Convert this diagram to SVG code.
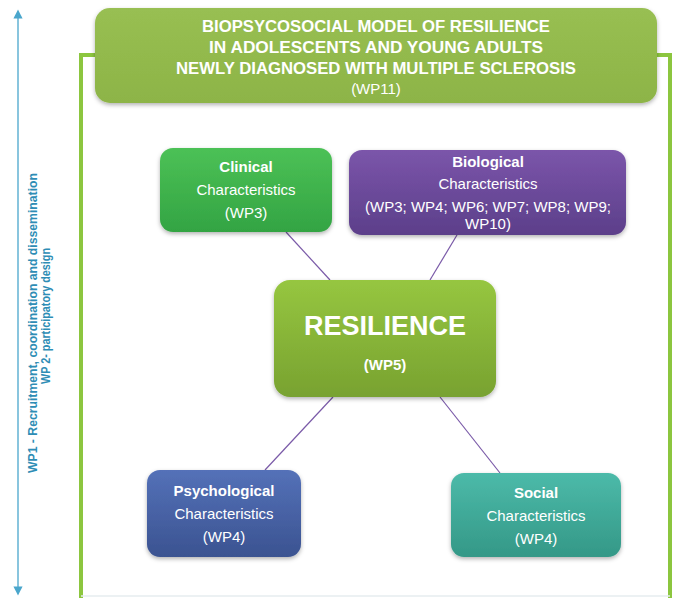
<svg xmlns="http://www.w3.org/2000/svg" width="675" height="598" viewBox="0 0 675 598">
<defs>
<style>
text{font-family:"Liberation Sans",Arial,sans-serif;fill:#fff;text-anchor:middle}
.t{font-size:16px;font-weight:bold}
.b{font-size:15px;font-weight:bold}
.r{font-size:15px}
.side{font-size:13px;font-weight:bold;fill:#2e8db5}
.conn{stroke:#7a5aa8;stroke-width:1.2;fill:none}
</style>
<filter id="sh" x="-10%" y="-10%" width="120%" height="130%"><feDropShadow dx="0" dy="2" stdDeviation="2" flood-color="#000" flood-opacity="0.3"/></filter>
<linearGradient id="gTitle" x1="0" y1="0" x2="0" y2="1"><stop offset="0" stop-color="#98bf52"/><stop offset="1" stop-color="#8db447"/></linearGradient>
<linearGradient id="gClin" x1="0" y1="0" x2="0" y2="1"><stop offset="0" stop-color="#4cc156"/><stop offset="1" stop-color="#33a443"/></linearGradient>
<linearGradient id="gBio" x1="0" y1="0" x2="0" y2="1"><stop offset="0" stop-color="#7b55aa"/><stop offset="1" stop-color="#5c3f8a"/></linearGradient>
<linearGradient id="gRes" x1="0" y1="0" x2="0" y2="1"><stop offset="0" stop-color="#96c640"/><stop offset="1" stop-color="#78a230"/></linearGradient>
<linearGradient id="gPsy" x1="0" y1="0" x2="0" y2="1"><stop offset="0" stop-color="#5471b8"/><stop offset="1" stop-color="#3b5391"/></linearGradient>
<linearGradient id="gSoc" x1="0" y1="0" x2="0" y2="1"><stop offset="0" stop-color="#4cbaa9"/><stop offset="1" stop-color="#349887"/></linearGradient>
<marker id="ah" viewBox="0 0 10 10" refX="5" refY="5" markerWidth="7" markerHeight="7" orient="auto-start-reverse"><path d="M0,0 L10,5 L0,10 z" fill="#4aa6cc"/></marker>
</defs>
<rect width="675" height="598" fill="#fff"/>

<g id="frame">
<path d="M81,598 V55 H100 M652,55 H670 V598" stroke="#8cc63f" stroke-width="4" fill="none"/>
<line x1="81" y1="596" x2="670" y2="596" stroke="#e6ecef" stroke-width="1.5"/>
</g>

<g id="side-axis">
<line x1="18" y1="14" x2="18" y2="591" stroke="#4aa6cc" stroke-width="1.3" marker-start="url(#ah)" marker-end="url(#ah)"/>
<text class="side" transform="translate(37,323) rotate(-90)" textLength="300" lengthAdjust="spacingAndGlyphs">WP1 - Recruitment, coordination and dissemination</text>
<text class="side" transform="translate(50,316) rotate(-90)" textLength="136" lengthAdjust="spacingAndGlyphs">WP 2- participatory design</text>
</g>

<g id="title">
<rect x="95" y="8" width="562" height="95" rx="15" fill="url(#gTitle)" filter="url(#sh)"/>
<text class="t" x="376" y="32" textLength="348" lengthAdjust="spacingAndGlyphs">BIOPSYCOSOCIAL MODEL OF RESILIENCE</text>
<text class="t" x="376" y="53" textLength="334" lengthAdjust="spacingAndGlyphs">IN ADOLESCENTS AND YOUNG ADULTS</text>
<text class="t" x="376" y="74" textLength="400" lengthAdjust="spacingAndGlyphs">NEWLY DIAGNOSED WITH MULTIPLE SCLEROSIS</text>
<text class="r" x="376" y="94">(WP11)</text>
</g>

<g id="connectors">
<line class="conn" x1="286" y1="232" x2="330" y2="280"/>
<line class="conn" x1="457" y1="235" x2="430" y2="280"/>
<line class="conn" x1="265" y1="470" x2="333" y2="397"/>
<line class="conn" x1="500" y1="473" x2="440" y2="397"/>
</g>

<g id="clinical">
<rect x="160" y="148" width="172" height="84" rx="13" fill="url(#gClin)" filter="url(#sh)"/>
<text class="b" x="246" y="172">Clinical</text>
<text class="r" x="246" y="195">Characteristics</text>
<text class="r" x="246" y="218">(WP3)</text>
</g>

<g id="biological">
<rect x="349" y="150" width="277" height="85" rx="13" fill="url(#gBio)" filter="url(#sh)"/>
<text class="b" x="488" y="167">Biological</text>
<text class="r" x="488" y="189">Characteristics</text>
<text class="r" x="488" y="212">(WP3; WP4; WP6; WP7; WP8; WP9;</text>
<text class="r" x="488" y="229">WP10)</text>
</g>

<g id="resilience">
<rect x="274" y="280" width="222" height="117" rx="16" fill="url(#gRes)" filter="url(#sh)"/>
<text x="385" y="335" style="font-size:27px;font-weight:bold">RESILIENCE</text>
<text class="b" x="385" y="370">(WP5)</text>
</g>

<g id="psychological">
<rect x="147" y="470" width="154" height="87" rx="13" fill="url(#gPsy)" filter="url(#sh)"/>
<text class="b" x="224" y="496">Psychological</text>
<text class="r" x="224" y="519">Characteristics</text>
<text class="r" x="224" y="542">(WP4)</text>
</g>

<g id="social">
<rect x="451" y="473" width="170" height="84" rx="13" fill="url(#gSoc)" filter="url(#sh)"/>
<text class="b" x="536" y="498">Social</text>
<text class="r" x="536" y="521">Characteristics</text>
<text class="r" x="536" y="544">(WP4)</text>
</g>
</svg>
